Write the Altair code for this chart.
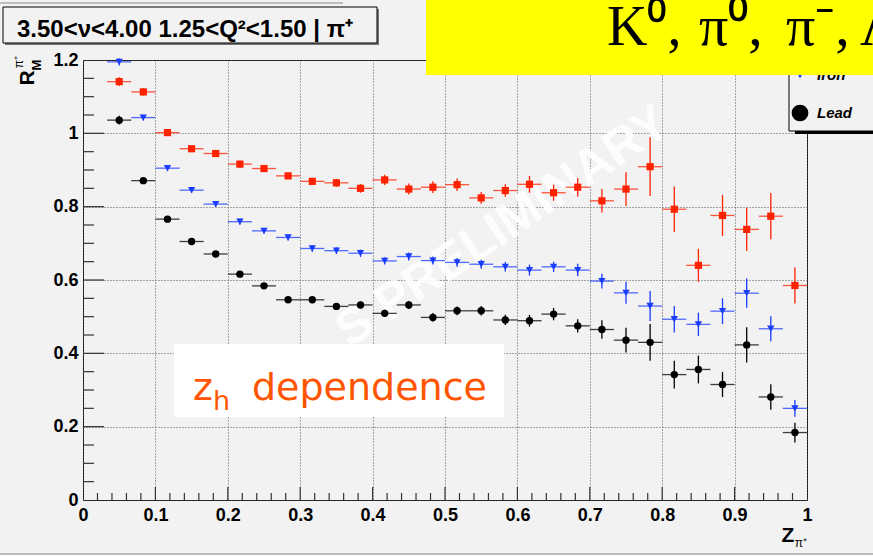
import altair as alt
import pandas as pd

# ---------------- data ----------------
z_centers = [0.05, 0.0833, 0.1167, 0.15, 0.1833, 0.2167, 0.25, 0.2833, 0.3167, 0.35,
             0.3833, 0.4167, 0.45, 0.4833, 0.5167, 0.55, 0.5833, 0.6167, 0.65, 0.6833,
             0.7167, 0.75, 0.7833, 0.8167, 0.85, 0.8833, 0.9167, 0.95, 0.9833]
bin_half_width = 1.0 / 60.0

carbon = [1.141, 1.113, 1.002, 0.958, 0.945, 0.916, 0.904, 0.884, 0.869, 0.865,
          0.850, 0.873, 0.848, 0.853, 0.860, 0.824, 0.844, 0.861, 0.838, 0.853,
          0.816, 0.848, 0.909, 0.793, 0.640, 0.776, 0.738, 0.774, 0.585]
carbon_err = [0.012, 0.010, 0.008, 0.008, 0.008, 0.009, 0.009, 0.009, 0.010, 0.011,
              0.012, 0.014, 0.015, 0.016, 0.017, 0.016, 0.017, 0.023, 0.022, 0.025,
              0.032, 0.046, 0.080, 0.062, 0.045, 0.056, 0.059, 0.063, 0.049]

iron = [1.195, 1.043, 0.905, 0.845, 0.807, 0.759, 0.734, 0.716, 0.686, 0.680,
        0.673, 0.652, 0.664, 0.653, 0.648, 0.643, 0.636, 0.627, 0.636, 0.627,
        0.597, 0.565, 0.529, 0.493, 0.479, 0.515, 0.564, 0.467, 0.250]
iron_err = [0.010, 0.008, 0.008, 0.008, 0.008, 0.008, 0.008, 0.008, 0.009, 0.009,
            0.010, 0.010, 0.011, 0.011, 0.012, 0.012, 0.013, 0.015, 0.014, 0.017,
            0.020, 0.030, 0.041, 0.036, 0.032, 0.035, 0.040, 0.034, 0.023]

lead = [1.036, 0.871, 0.766, 0.705, 0.671, 0.616, 0.584, 0.546, 0.546, 0.528,
        0.532, 0.509, 0.532, 0.498, 0.516, 0.516, 0.491, 0.489, 0.507, 0.475,
        0.465, 0.436, 0.430, 0.342, 0.356, 0.315, 0.423, 0.281, 0.184]
lead_err = [0.012, 0.008, 0.007, 0.007, 0.007, 0.007, 0.007, 0.007, 0.008, 0.009,
            0.009, 0.010, 0.011, 0.012, 0.012, 0.013, 0.014, 0.016, 0.017, 0.018,
            0.025, 0.034, 0.050, 0.038, 0.038, 0.034, 0.048, 0.035, 0.027]

series_names = ["Carbon", "Iron", "Lead"]
series_colors = ["#ff2200", "#1a3cff", "#000000"]
series_shapes = ["square", "triangle-down", "circle"]
series_sizes = [52, 55, 42]

x_major = [0, 0.1, 0.2, 0.3, 0.4, 0.5, 0.6, 0.7, 0.8, 0.9, 1.0]
y_major = [0, 0.2, 0.4, 0.6, 0.8, 1.0, 1.2]
x_minor = [round(i * 0.02, 2) for i in range(1, 50) if i % 5 != 0]
y_minor = [round(i * 0.05, 2) for i in range(1, 24) if i % 4 != 0]

# ---------------- tables ----------------
rows = []
for name, vals, errs in zip(series_names, [carbon, iron, lead], [carbon_err, iron_err, lead_err]):
    for zc, v, e in zip(z_centers, vals, errs):
        rows.append({"series": name, "z": zc, "v": v, "lo": v - e, "hi": v + e,
                     "zlo": zc - bin_half_width, "zhi": zc + bin_half_width})
df = pd.DataFrame(rows)

W, H = 724, 440
xs = alt.Scale(domain=[0, 1], nice=False, zero=False)
ys = alt.Scale(domain=[0, 1.2], nice=False, zero=False)

FONT = "Liberation Sans"
xax = alt.Axis(values=x_major, format="~g", title=None, grid=True, gridDash=[1, 2],
               gridColor="#555", gridWidth=1, ticks=False, domain=False,
               labelFont=FONT, labelFontWeight="bold", labelFontSize=18,
               labelColor="#000", labelPadding=6, labelFlush=False)
yax = alt.Axis(values=y_major, format="~g", title=None, grid=True, gridDash=[1, 2],
               gridColor="#555", gridWidth=1, ticks=False, domain=False,
               labelFont=FONT, labelFontWeight="bold", labelFontSize=18,
               labelColor="#000", labelPadding=5, labelFlush=False)

color = alt.Color("series:N", scale=alt.Scale(domain=series_names, range=series_colors), legend=None)
shape = alt.Shape("series:N", scale=alt.Scale(domain=series_names, range=series_shapes), legend=None)
size = alt.Size("series:N", scale=alt.Scale(domain=series_names, range=series_sizes), legend=None)

one = pd.DataFrame({"k": [0]})


def text(t, x, y, sz, font=FONT, weight="normal", style="normal", col="#000",
         align="left", baseline="alphabetic", angle=0, opacity=1.0):
    kw = dict(text=t, font=font, fontSize=sz, fontWeight=weight, fontStyle=style,
              color=col, align=align, baseline=baseline, opacity=opacity)
    if angle:
        kw["angle"] = angle
    return alt.Chart(one).mark_text(**kw).encode(x=alt.value(x), y=alt.value(y))


def box(x1, y1, x2, y2, fill, stroke=None, sw=1):
    kw = dict(fill=fill)
    if stroke:
        kw["stroke"] = stroke
        kw["strokeWidth"] = sw
    else:
        kw["strokeWidth"] = 0
    return alt.Chart(one).mark_rect(**kw).encode(
        x=alt.value(x1), x2=alt.value(x2), y=alt.value(y1), y2=alt.value(y2))


# ---------------- layers ----------------
vbars = alt.Chart(df).mark_rule(strokeWidth=1.3).encode(
    x=alt.X("z:Q", scale=xs, axis=xax),
    y=alt.Y("lo:Q", scale=ys, axis=yax), y2="hi:Q", color=color)
hbars = alt.Chart(df).mark_rule(strokeWidth=1.3, opacity=0.75).encode(
    x=alt.X("zlo:Q", scale=xs, axis=xax), x2="zhi:Q",
    y=alt.Y("v:Q", scale=ys, axis=yax), color=color)
points = alt.Chart(df).mark_point(filled=True, opacity=1).encode(
    x=alt.X("z:Q", scale=xs, axis=xax), y=alt.Y("v:Q", scale=ys, axis=yax),
    color=color, shape=shape, size=size)

xt_major = pd.DataFrame({"t": x_major[1:-1]})
xt_minor = pd.DataFrame({"t": x_minor})
yt_major = pd.DataFrame({"t": y_major[1:-1]})
yt_minor = pd.DataFrame({"t": y_minor})
tick_col = "#333"
xtM = alt.Chart(xt_major).mark_rule(color=tick_col, strokeWidth=1.2).encode(
    x=alt.X("t:Q", scale=xs, axis=xax), y=alt.value(H), y2=alt.value(H - 13))
xtm = alt.Chart(xt_minor).mark_rule(color=tick_col, strokeWidth=1.2).encode(
    x=alt.X("t:Q", scale=xs, axis=xax), y=alt.value(H), y2=alt.value(H - 7))
ytM = alt.Chart(yt_major).mark_rule(color=tick_col, strokeWidth=1.2).encode(
    y=alt.Y("t:Q", scale=ys, axis=yax), x=alt.value(0), x2=alt.value(21))
ytm = alt.Chart(yt_minor).mark_rule(color=tick_col, strokeWidth=1.2).encode(
    y=alt.Y("t:Q", scale=ys, axis=yax), x=alt.value(0), x2=alt.value(11))

# watermark
watermark = text("S PRELIMINARY", 420, 167, 50, weight="bold", col="#ffffff",
                 align="center", baseline="middle", angle=326, opacity=0.9)

# z_h dependence box
zh_box = box(91, 284, 421, 357, "#ffffff")
zh_col = "#ff5500"
zh1 = text("z", 110, 340, 38, font="DejaVu Sans", col=zh_col)
zh2 = text("h", 130, 350, 27, font="DejaVu Sans", col=zh_col)
zh3 = text("dependence", 169, 340, 38, font="DejaVu Sans", col=zh_col)

# legend (partly hidden)
leg_shadow = box(712, 71, 830, 74, "#000000")
leg_box = box(706, -30, 830, 71, "#f2f2f2", stroke="#000", sw=1)
leg_iron = alt.Chart(one).mark_point(shape="triangle-down", filled=True, color="#1a3cff",
                                     size=60, opacity=1).encode(x=alt.value(717), y=alt.value(15))
leg_lead = alt.Chart(one).mark_point(shape="circle", filled=True, color="#000",
                                     size=280, opacity=1).encode(x=alt.value(717), y=alt.value(53))
leg_t1 = text("Iron", 734, 20, 15, weight="bold", style="italic")
leg_t2 = text("Lead", 734, 58, 15, weight="bold", style="italic")

# yellow overlay box (text runs off the right edge, as in the slide)
ybox = box(343, -60, 800, 15, "#ffff00")
SERIF = "Liberation Serif"
ytexts = [
    text("K⁰,", 524, -15, 56, font=SERIF),
    text("π⁰,", 616, -15, 58, font=SERIF),
    text("π⁻,", 703, -15, 58, font=SERIF),
    text("Λ", 777, -15, 56, font=SERIF),
]

# title box
t_shadow = box(-78, -51, 296, -15, "#777777")
t_box = box(-80, -53, 294, -17, "#f2f2f2", stroke="#000", sw=1)
t_text = text("3.50<ν<4.00 1.25<Q²<1.50 | π⁺", -66, -23, 24, weight="bold")

# axis titles
ytitle = [
    text("R", -55, 18, 21, weight="bold", align="center", baseline="middle", angle=270),
    text("M", -46, 5, 13, weight="bold", align="center", baseline="middle", angle=270),
    text("π⁺", -64, 2, 12, align="center", baseline="middle", angle=270),
]
xtitle = [
    text("Z", 705, 482, 21, weight="bold", align="center"),
    text("π⁺", 718, 487, 12, align="center"),
]

# slide border lines
borders = [
    box(-83, -58, 260, -56, "#bdbdbd"),
    box(-83, 493, 790, 495, "#bdbdbd"),
    box(-83, 495, 790, 496, "#ffffff"),
]

chart = alt.layer(
    watermark, xtM, xtm, ytM, ytm, vbars, hbars, points,
    zh_box, zh1, zh2, zh3,
    leg_shadow, leg_box, leg_iron, leg_lead, leg_t1, leg_t2,
    ybox, *ytexts,
    t_shadow, t_box, t_text,
    *ytitle, *xtitle, *borders,
).properties(
    width=W, height=H,
    background="#f2f2f2",
    padding={"left": 83, "top": 60, "right": 66, "bottom": 56},
    autosize=alt.AutoSizeParams(type="none"),
).configure_view(stroke="#111", strokeWidth=1)

chart.save("out.html", embed_options={"renderer": "svg", "actions": False})
